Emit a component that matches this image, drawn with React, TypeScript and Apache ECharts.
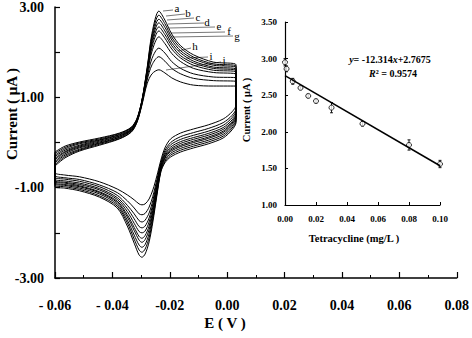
import { useEffect, useRef } from 'react';
import * as echarts from 'echarts';

// ---------- Main CV plot data ----------
const curveLabels = ['a', 'b', 'c', 'd', 'e', 'f', 'g', 'h', 'i', 'j'];

// Potential (V) sampled along the forward (anodic) sweep, left to right
const forwardE = [-0.06, -0.0565, -0.0515, -0.0445, -0.0375, -0.0334, -0.0314, -0.0297, -0.0279, -0.0262, -0.0238, -0.0217, -0.0193, -0.0162, -0.0117, -0.0048, 0.0031];
// Potential (V) sampled along the reverse (cathodic) sweep, right to left
const reverseE = [0.0031, 0.0017, -0.0014, -0.0066, -0.0117, -0.0162, -0.0197, -0.0217, -0.0231, -0.0245, -0.0259, -0.0272, -0.0286, -0.0297, -0.0307, -0.0324, -0.0348, -0.0383, -0.0445, -0.0514, -0.0566, -0.06];

// Current (µA) on the forward sweep, one row per curve a..j
const forwardCurrent = [
  [-0.21, -0.08, 0.01, 0.10, 0.21, 0.34, 0.54, 0.94, 1.65, 2.42, 2.91, 2.71, 2.40, 2.14, 1.94, 1.78, 1.72],
  [-0.24, -0.11, -0.01, 0.08, 0.20, 0.33, 0.53, 0.93, 1.63, 2.36, 2.82, 2.63, 2.33, 2.09, 1.89, 1.74, 1.69],
  [-0.28, -0.14, -0.03, 0.06, 0.18, 0.32, 0.52, 0.93, 1.60, 2.30, 2.73, 2.55, 2.27, 2.03, 1.85, 1.71, 1.66],
  [-0.31, -0.17, -0.06, 0.05, 0.17, 0.30, 0.51, 0.92, 1.58, 2.24, 2.65, 2.47, 2.20, 1.98, 1.80, 1.67, 1.62],
  [-0.35, -0.20, -0.08, 0.03, 0.15, 0.29, 0.50, 0.91, 1.56, 2.18, 2.56, 2.39, 2.14, 1.92, 1.76, 1.64, 1.59],
  [-0.38, -0.22, -0.10, 0.01, 0.14, 0.28, 0.49, 0.90, 1.53, 2.11, 2.47, 2.31, 2.07, 1.87, 1.71, 1.60, 1.56],
  [-0.42, -0.25, -0.12, -0.01, 0.12, 0.27, 0.48, 0.89, 1.50, 2.02, 2.34, 2.19, 1.97, 1.79, 1.64, 1.55, 1.51],
  [-0.45, -0.28, -0.15, -0.02, 0.11, 0.26, 0.47, 0.87, 1.43, 1.86, 2.09, 1.98, 1.79, 1.64, 1.52, 1.45, 1.43],
  [-0.49, -0.31, -0.17, -0.04, 0.09, 0.24, 0.46, 0.85, 1.38, 1.72, 1.90, 1.80, 1.64, 1.52, 1.42, 1.37, 1.35],
  [-0.52, -0.34, -0.19, -0.06, 0.08, 0.23, 0.45, 0.83, 1.30, 1.52, 1.61, 1.54, 1.43, 1.34, 1.27, 1.25, 1.25],
];

// Current (µA) on the reverse sweep, one row per curve a..j
const reverseCurrent = [
  [0.45, 0.28, 0.10, -0.03, -0.12, -0.21, -0.32, -0.45, -0.65, -1.18, -1.76, -2.20, -2.47, -2.54, -2.49, -2.23, -1.85, -1.45, -1.21, -1.07, -1.01, -0.98],
  [0.49, 0.32, 0.14, 0.01, -0.08, -0.17, -0.28, -0.42, -0.63, -1.14, -1.69, -2.11, -2.36, -2.43, -2.38, -2.14, -1.78, -1.41, -1.18, -1.04, -0.98, -0.95],
  [0.52, 0.36, 0.18, 0.05, -0.04, -0.13, -0.24, -0.39, -0.60, -1.10, -1.62, -2.02, -2.26, -2.32, -2.27, -2.05, -1.72, -1.37, -1.14, -1.01, -0.95, -0.92],
  [0.56, 0.40, 0.22, 0.09, 0.00, -0.09, -0.20, -0.35, -0.58, -1.05, -1.56, -1.93, -2.15, -2.21, -2.16, -1.95, -1.65, -1.33, -1.11, -0.98, -0.93, -0.89],
  [0.59, 0.43, 0.25, 0.12, 0.03, -0.06, -0.17, -0.33, -0.56, -1.02, -1.50, -1.85, -2.06, -2.12, -2.08, -1.88, -1.60, -1.30, -1.09, -0.96, -0.90, -0.87],
  [0.63, 0.46, 0.29, 0.16, 0.07, -0.02, -0.14, -0.30, -0.53, -0.98, -1.43, -1.76, -1.96, -2.00, -1.97, -1.79, -1.53, -1.26, -1.05, -0.93, -0.88, -0.84],
  [0.66, 0.50, 0.33, 0.20, 0.11, 0.02, -0.10, -0.27, -0.50, -0.93, -1.36, -1.67, -1.85, -1.89, -1.86, -1.69, -1.46, -1.22, -1.02, -0.90, -0.85, -0.81],
  [0.71, 0.55, 0.38, 0.25, 0.16, 0.07, -0.05, -0.23, -0.47, -0.88, -1.28, -1.56, -1.72, -1.76, -1.73, -1.58, -1.39, -1.17, -0.98, -0.86, -0.81, -0.77],
  [0.76, 0.60, 0.44, 0.31, 0.22, 0.13, 0.00, -0.18, -0.44, -0.82, -1.19, -1.43, -1.57, -1.60, -1.58, -1.45, -1.29, -1.11, -0.94, -0.82, -0.78, -0.73],
  [0.83, 0.68, 0.52, 0.39, 0.30, 0.21, 0.08, -0.12, -0.39, -0.74, -1.05, -1.25, -1.36, -1.38, -1.36, -1.27, -1.16, -1.03, -0.87, -0.76, -0.72, -0.67],
];

const mainXTickLabels = ['- 0.06', '- 0.04', '-0.02', '0.00', '0.02', '0.04', '0.06', '0.08'];

// ---------- Inset data ----------
const concentration = [0, 0.001, 0.005, 0.01, 0.015, 0.02, 0.03, 0.05, 0.08, 0.1];
const peakCurrent = [2.95, 2.86, 2.69, 2.6, 2.49, 2.42, 2.33, 2.11, 1.82, 1.56];
const peakError = [0.05, 0.04, 0.04, 0.02, 0.02, 0.02, 0.07, 0.03, 0.07, 0.05];
const fitLine = [[0, 2.7675], [0.1, 1.5361]];
const equationText = 'y= -12.314x+2.7675';
const r2Text = 'R² = 0.9574';

const SERIF = "'Times New Roman', 'Liberation Serif', serif";

// label leader lines (annotation decoration, pixel space)
const labelAnchors = [
  { t: 'a', x1: 163, y1: 11, x2: 173, y2: 10, tx: 177, ty: 8 },
  { t: 'b', x1: 166, y1: 16, x2: 185, y2: 14, tx: 188, ty: 13 },
  { t: 'c', x1: 167, y1: 20, x2: 194, y2: 18, tx: 198, ty: 17 },
  { t: 'd', x1: 168, y1: 24, x2: 204, y2: 23, tx: 207, ty: 22 },
  { t: 'e', x1: 169, y1: 28, x2: 215, y2: 27, tx: 219, ty: 26 },
  { t: 'f', x1: 171, y1: 33, x2: 225, y2: 32, tx: 229, ty: 31 },
  { t: 'g', x1: 172, y1: 37, x2: 233, y2: 36, tx: 237, ty: 36 },
  { t: 'h', x1: 178, y1: 51, x2: 191, y2: 48, tx: 195, ty: 46 },
  { t: 'i', x1: 186, y1: 58, x2: 208, y2: 57, tx: 211, ty: 56 },
  { t: 'j', x1: 166, y1: 70, x2: 221, y2: 62, tx: 224, ty: 60 },
];

function buildOption() {
  const cvSeries = curveLabels.map((name, k) => {
    const pts: number[][] = [];
    forwardE.forEach((e, i) => pts.push([e, forwardCurrent[k][i]]));
    reverseE.forEach((e, i) => pts.push([e, reverseCurrent[k][i]]));
    pts.push([forwardE[0], forwardCurrent[k][0]]);
    return {
      name,
      type: 'line',
      xAxisIndex: 0,
      yAxisIndex: 0,
      data: pts,
      showSymbol: false,
      symbol: 'none',
      smooth: 0.3,
      lineStyle: { color: '#000', width: 1 },
      silent: true,
    };
  });

  const graphic: any[] = [];
  labelAnchors.forEach((l) => {
    graphic.push({
      type: 'line',
      shape: { x1: l.x1, y1: l.y1, x2: l.x2, y2: l.y2 },
      style: { stroke: '#555', lineWidth: 0.8 },
    });
    graphic.push({
      type: 'text',
      x: l.tx,
      y: l.ty,
      style: { text: l.t, fill: '#000', fontSize: 11, fontFamily: SERIF, align: 'center', verticalAlign: 'middle', textAlign: 'center', textVerticalAlign: 'middle' },
    });
  });
  graphic.push({
    type: 'text', x: 225, y: 323,
    style: { text: 'E ( V )', fill: '#000', fontSize: 15, fontWeight: 'bold', fontFamily: SERIF, align: 'center', verticalAlign: 'middle', textAlign: 'center', textVerticalAlign: 'middle' },
  });
  graphic.push({
    type: 'text', x: 12, y: 114, rotation: Math.PI / 2,
    style: { text: 'Current ( μA )', fill: '#000', fontSize: 15, fontWeight: 'bold', fontFamily: SERIF, align: 'center', verticalAlign: 'middle', textAlign: 'center', textVerticalAlign: 'middle' },
  });
  graphic.push({
    type: 'text', x: 246, y: 110, rotation: Math.PI / 2,
    style: { text: 'Current ( μA )', fill: '#000', fontSize: 10.5, fontWeight: 'bold', fontFamily: SERIF, align: 'center', verticalAlign: 'middle', textAlign: 'center', textVerticalAlign: 'middle' },
  });
  graphic.push({
    type: 'text', x: 354, y: 238,
    style: { text: 'Tetracycline (mg/L )', fill: '#000', fontSize: 10.5, fontWeight: 'bold', fontFamily: SERIF, align: 'center', verticalAlign: 'middle', textAlign: 'center', textVerticalAlign: 'middle' },
  });
  const eqParts = equationText.split(/([xy])/).filter((s) => s.length);
  graphic.push({
    type: 'text', x: 390, y: 59,
    style: {
      text: eqParts.map((p) => (p === 'x' || p === 'y' ? `{i|${p}}` : `{n|${p}}`)).join(''),
      rich: {
        n: { fontSize: 10, fontWeight: 'bold', fontFamily: SERIF, fill: '#000' },
        i: { fontSize: 10, fontWeight: 'bold', fontStyle: 'italic', fontFamily: SERIF, fill: '#000' },
      },
      align: 'center', verticalAlign: 'middle', textAlign: 'center', textVerticalAlign: 'middle',
    },
  });
  graphic.push({
    type: 'text', x: 393, y: 73,
    style: {
      text: `{i|R}{n|${r2Text.slice(1)}}`,
      rich: {
        n: { fontSize: 10, fontWeight: 'bold', fontFamily: SERIF, fill: '#000' },
        i: { fontSize: 10, fontWeight: 'bold', fontStyle: 'italic', fontFamily: SERIF, fill: '#000' },
      },
      align: 'center', verticalAlign: 'middle', textAlign: 'center', textVerticalAlign: 'middle',
    },
  });

  const axisLine = { show: true, onZero: false, lineStyle: { color: '#000', width: 1.5 } };

  return {
    animation: false,
    backgroundColor: '#fff',
    grid: [
      { left: 55, top: 7, width: 404, height: 271 },
      { left: 285, top: 22, width: 155, height: 183 },
    ],
    xAxis: [
      {
        gridIndex: 0, type: 'value', min: -0.06, max: 0.08, interval: 0.02,
        axisLine,
        axisTick: { show: true, inside: true, length: 6, lineStyle: { color: '#000', width: 1.2 } },
        minorTick: { show: true, splitNumber: 2, length: 3, lineStyle: { color: '#000', width: 1 } },
        splitLine: { show: false },
        axisLabel: {
          margin: 20, color: '#000', fontSize: 14, fontWeight: 'bold', fontFamily: SERIF,
          formatter: (v: number) => mainXTickLabels[Math.round((v + 0.06) / 0.02)] ?? '',
        },
      },
      {
        gridIndex: 1, type: 'value', min: 0, max: 0.1, interval: 0.02,
        axisLine: { show: true, onZero: false, lineStyle: { color: '#000', width: 1.2 } },
        axisTick: { show: true, inside: true, length: 3, lineStyle: { color: '#000' } },
        splitLine: { show: false },
        axisLabel: { margin: 9, color: '#000', fontSize: 9, fontWeight: 'bold', fontFamily: SERIF, formatter: (v: number) => v.toFixed(2) },
      },
    ],
    yAxis: [
      {
        gridIndex: 0, type: 'value', min: -3, max: 3, interval: 1,
        axisLine,
        axisTick: { show: true, inside: true, length: 5, lineStyle: { color: '#000', width: 1.2 } },
        splitLine: { show: false },
        axisLabel: {
          margin: 11, color: '#000', fontSize: 14, fontWeight: 'bold', fontFamily: SERIF,
          formatter: (v: number) => (Math.abs(Math.round(v)) % 2 === 1 ? v.toFixed(2) : ''),
        },
      },
      {
        gridIndex: 1, type: 'value', min: 1, max: 3.5, interval: 0.5,
        axisLine: { show: true, onZero: false, lineStyle: { color: '#000', width: 1.2 } },
        axisTick: { show: true, inside: true, length: 3, lineStyle: { color: '#000' } },
        splitLine: { show: false },
        axisLabel: { margin: 8, color: '#000', fontSize: 9, fontWeight: 'bold', fontFamily: SERIF, formatter: (v: number) => v.toFixed(2) },
      },
    ],
    series: [
      ...cvSeries,
      {
        type: 'line', xAxisIndex: 1, yAxisIndex: 1, data: fitLine, showSymbol: false, symbol: 'none',
        lineStyle: { color: '#000', width: 1.5 }, silent: true,
      },
      {
        type: 'custom', xAxisIndex: 1, yAxisIndex: 1,
        data: concentration.map((c, i) => [c, peakCurrent[i], peakError[i]]),
        encode: { x: 0, y: 1 },
        renderItem: (_p: any, api: any) => {
          const x = api.value(0), y = api.value(1), e = api.value(2);
          const top = api.coord([x, y + e]);
          const bot = api.coord([x, y - e]);
          const st = { stroke: '#000', lineWidth: 0.9 };
          return {
            type: 'group',
            children: [
              { type: 'line', shape: { x1: top[0], y1: top[1], x2: bot[0], y2: bot[1] }, style: st },
              { type: 'line', shape: { x1: top[0] - 1.5, y1: top[1], x2: top[0] + 1.5, y2: top[1] }, style: st },
              { type: 'line', shape: { x1: bot[0] - 1.5, y1: bot[1], x2: bot[0] + 1.5, y2: bot[1] }, style: st },
            ],
          };
        },
        silent: true,
      },
      {
        type: 'scatter', xAxisIndex: 1, yAxisIndex: 1,
        data: concentration.map((c, i) => [c, peakCurrent[i]]),
        symbol: 'circle', symbolSize: 5,
        itemStyle: { color: '#fff', borderColor: '#000', borderWidth: 1 },
        silent: true,
      },
    ],
    graphic,
  };
}

export default function App() {
  const ref = useRef<HTMLDivElement>(null);
  useEffect(() => {
    const chart = echarts.init(ref.current!, null, { renderer: 'svg' });
    chart.setOption(buildOption() as any);
    return () => chart.dispose();
  }, []);
  return (
    <div
      ref={ref}
      style={{ position: 'fixed', left: 0, top: 0, width: 472, height: 338, background: '#fff' }}
    />
  );
}
